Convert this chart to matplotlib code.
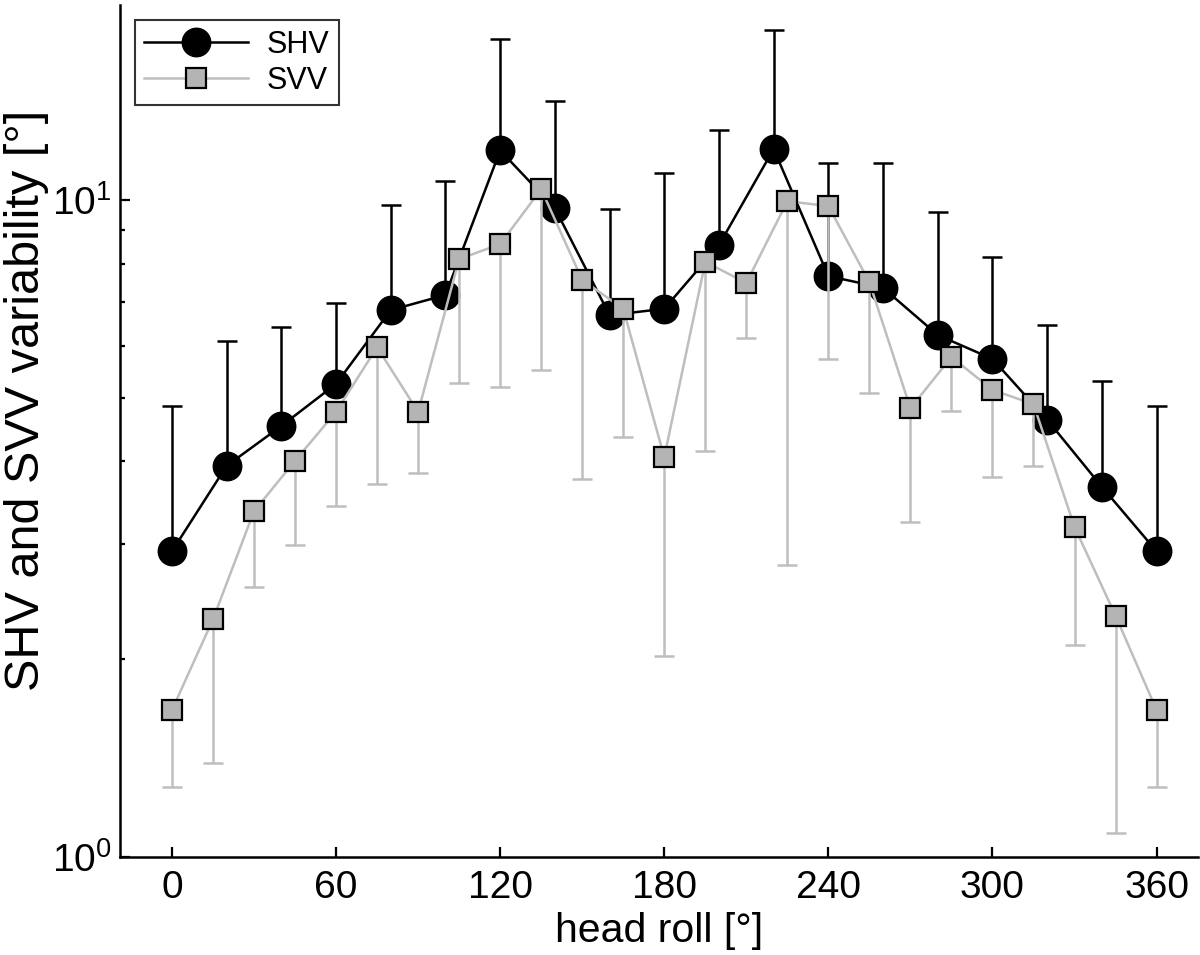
import matplotlib
matplotlib.use('Agg')
import matplotlib.pyplot as plt
import numpy as np

plt.rcParams['font.family'] = ['Liberation Sans', 'DejaVu Sans']
plt.rcParams['mathtext.fontset'] = 'custom'
plt.rcParams['mathtext.rm'] = 'Liberation Sans'
plt.rcParams['mathtext.it'] = 'Liberation Sans'

# SHV: every 20 deg, upper error bars only
shv_roll = [0, 20, 40, 60, 80, 100, 120, 140, 160, 180, 200, 220, 240, 260, 280, 300, 320, 340, 360]
shv_mean = [2.92, 3.94, 4.53, 5.25, 6.80, 7.17, 11.9, 9.72, 6.68, 6.83, 8.54, 11.96, 7.66, 7.35, 6.23, 5.73,
            4.63, 3.66, 2.92]
shv_top = [4.86, 6.10, 6.41, 6.97, 9.83, 10.7, 17.6, 14.15, 9.69, 10.99, 12.8, 18.15, 11.4, 11.4, 9.59, 8.19,
           6.45, 5.30, 4.86]

# SVV: every 15 deg, lower error bars only
svv_roll = [0, 15, 30, 45, 60, 75, 90, 105, 120, 135, 150, 165, 180, 195, 210, 225, 240, 255, 270, 285, 300,
            315, 330, 345, 360]
svv_mean = [1.674, 2.30, 3.36, 4.01, 4.76, 5.97, 4.76, 8.13, 8.57, 10.39, 7.56, 6.83, 4.06, 8.05, 7.48, 9.96,
            9.79, 7.50, 4.82, 5.77, 5.14, 4.89, 3.18, 2.33, 1.674]
svv_bottom = [1.28, 1.39, 2.58, 2.98, 3.42, 3.70, 3.84, 5.27, 5.19, 5.51, 3.76, 4.36, 2.02, 4.15, 6.17, 2.78,
              5.73, 5.08, 3.24, 4.77, 3.79, 3.94, 2.10, 1.088, 1.28]

gray_line = '#bebebe'
gray_face = '#b4b4b4'

fig = plt.figure(figsize=(12, 9.55), dpi=100)
ax = fig.add_axes([0.1, 0.1026, 0.898, 0.892])

shv_mean = np.array(shv_mean)
svv_mean = np.array(svv_mean)
shv_err = [np.zeros(len(shv_mean)), np.array(shv_top) - shv_mean]
svv_err = [svv_mean - np.array(svv_bottom), np.zeros(len(svv_mean))]

ax.errorbar(shv_roll, shv_mean, yerr=shv_err, fmt='none', ecolor='black', elinewidth=1.8,
            capsize=7.5, capthick=1.8, zorder=1)
ax.plot(shv_roll, shv_mean, '-o', color='black', lw=1.8, ms=20.5, mfc='black', mec='black',
        label='SHV', zorder=2)

ax.errorbar(svv_roll, svv_mean, yerr=svv_err, fmt='none', ecolor=gray_line, elinewidth=1.8,
            capsize=7.5, capthick=1.8, zorder=3)
ax.plot(svv_roll, svv_mean, '-s', color=gray_line, lw=1.8, ms=15, mfc=gray_face, mec='black',
        mew=1.6, label='SVV', zorder=4)

ax.set_yscale('log')
ax.set_xlim(-19, 375)
ax.set_ylim(1, 19.8)
ax.set_xticks([0, 60, 120, 180, 240, 300, 360])

for s in ['top', 'right']:
    ax.spines[s].set_visible(False)
for s in ['left', 'bottom']:
    ax.spines[s].set_linewidth(1.8)

ax.tick_params(which='major', direction='in', length=7.5, width=1.6, labelsize=28, pad=9)
ax.tick_params(axis='y', which='major', pad=6)
ax.tick_params(which='minor', direction='in', length=3.5, width=1.6)
ax.tick_params(axis='x', which='minor', bottom=False)

ax.set_xlabel('head roll [°]', fontsize=29.5, labelpad=5)
ax.set_ylabel('SHV and SVV variability [°]', fontsize=35)
ax.yaxis.set_label_coords(-0.066, 0.536)

leg = ax.legend(loc='upper left', fontsize=22, frameon=True, fancybox=False, edgecolor='black',
                borderaxespad=0.5, handlelength=3.4, borderpad=0.3, labelspacing=0.2,
                handletextpad=0.6)
leg.get_frame().set_linewidth(1.5)

fig.savefig('out.png', dpi=100)
